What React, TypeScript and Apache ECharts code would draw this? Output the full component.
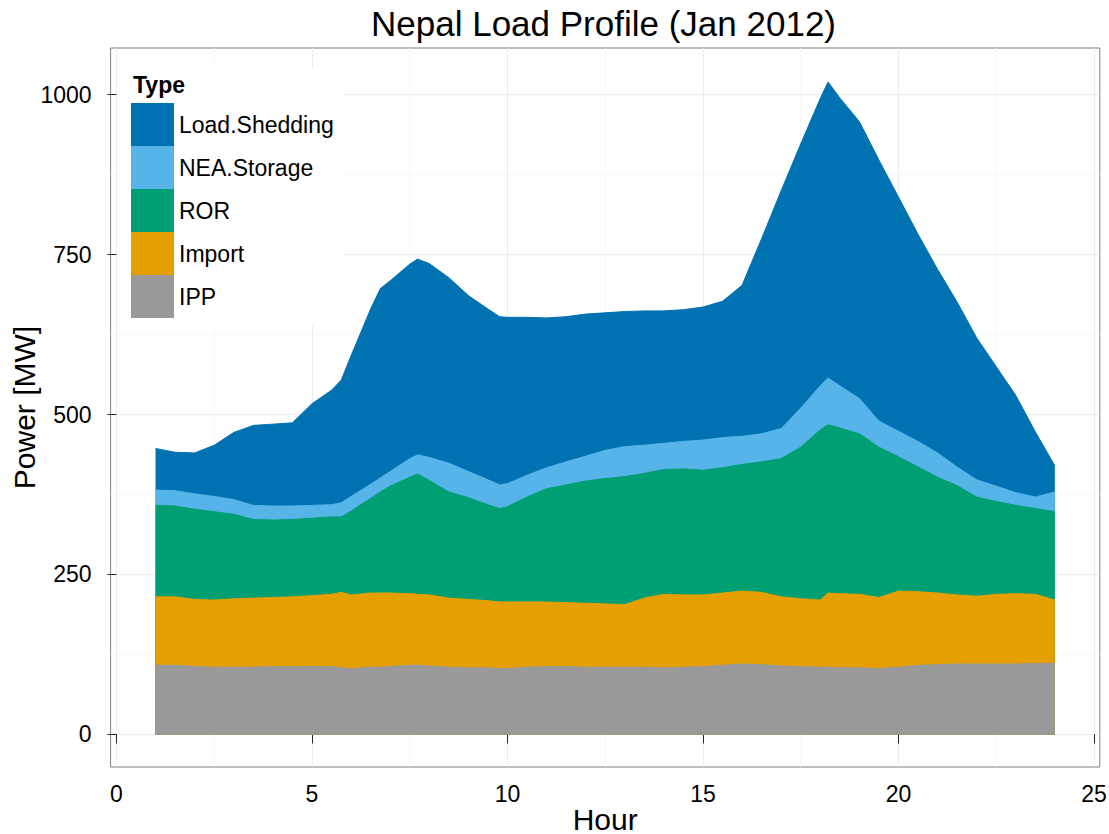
import React, { useEffect, useRef } from "react";
import * as echarts from "echarts";

const hours = [1, 1.5, 2, 2.5, 3, 3.5, 4, 4.5, 5, 5.5, 5.75, 6, 6.5, 6.75, 7, 7.5, 7.7, 8, 8.5, 9, 9.5, 9.8, 10, 10.5, 11, 11.5, 12, 12.5, 13, 13.5, 14, 14.5, 15, 15.5, 16, 16.5, 17, 17.5, 18, 18.2, 18.5, 19, 19.5, 20, 20.5, 21, 21.5, 22, 22.5, 23, 23.5, 24];

const ipp = [108, 108, 106, 105, 105, 105, 106, 106, 106, 106, 104, 103, 105, 105, 106, 108, 108, 107, 105, 104, 104, 103, 103, 105, 106, 106, 105, 105, 105, 105, 104, 105, 106, 108, 110, 109, 107, 106, 105, 105, 104, 104, 103, 105, 108, 109, 110, 110, 110, 110, 111, 111];
const importPower = [107, 107, 105, 105, 107, 108, 108, 109, 111, 113, 118, 115, 116, 116, 115, 112, 111, 111, 108, 107, 105, 104, 104, 102, 101, 100, 100, 99, 98, 108, 115, 113, 112, 113, 114, 113, 108, 106, 105, 116, 116, 115, 111, 119, 115, 112, 108, 106, 109, 110, 108, 99];
const ror = [143, 142, 141, 138, 132, 123, 121, 121, 121, 121, 118, 131, 148, 158, 167, 182, 188, 179, 166, 159, 150, 146, 149, 164, 177, 184, 191, 196, 200, 195, 195, 197, 195, 196, 198, 204, 216, 237, 266, 263, 259, 251, 235, 210, 195, 181, 171, 155, 145, 138, 134, 138];
const neaStorage = [24, 24, 24, 24, 23, 22, 22, 21, 20, 19, 22, 23, 22, 22, 23, 29, 30, 36, 45, 41, 39, 37, 36, 34, 33, 36, 39, 44, 47, 44, 41, 43, 47, 47, 44, 44, 47, 61, 69, 73, 66, 55, 41, 40, 40, 38, 29, 27, 24, 20, 18, 31];
const loadShedding = [65, 60, 64, 80, 105, 125, 128, 130, 159, 179, 192, 220, 274, 296, 298, 304, 306, 303, 290, 275, 267, 263, 260, 247, 234, 227, 222, 215, 211, 210, 207, 206, 208, 213, 236, 305, 372, 413, 449, 463, 450, 433, 408, 366, 324, 287, 258, 222, 187, 152, 102, 41];

const seriesNames = ["IPP", "Import", "ROR", "NEA.Storage", "Load.Shedding"];
const legendOrder = ["Load.Shedding", "NEA.Storage", "ROR", "Import", "IPP"];
const seriesColors = ["#999999", "#E69F00", "#009E73", "#56B4E9", "#0072B2"];
const xTicks = [0, 5, 10, 15, 20, 25];
const xMinorTicks = [2.5, 7.5, 12.5, 17.5, 22.5];
const yTicks = [0, 250, 500, 750, 1000];
const yMinorTicks = [125, 375, 625, 875];

const FONT = "'Liberation Sans', Arial, Helvetica, sans-serif";

export default function App() {
  const ref = useRef<HTMLDivElement>(null);
  useEffect(() => {
    if (!ref.current) return;
    const chart = echarts.init(ref.current, undefined, { renderer: "svg" });
    const values = [ipp, importPower, ror, neaStorage, loadShedding];
    // stacked tops of each layer (ggplot position = "stack")
    const cumulative: number[][] = [];
    values.forEach((arr, i) => {
      cumulative.push(arr.map((v, j) => v + (i > 0 ? cumulative[i - 1][j] : 0)));
    });
    // draw the highest layer first, lower layers painted over it
    const series = [4, 3, 2, 1, 0].map((i, order) => ({
      name: seriesNames[i],
      type: "line",
      data: hours.map((h, j) => [h, cumulative[i][j]]),
      symbol: "none",
      showSymbol: false,
      smooth: false,
      color: seriesColors[i],
      itemStyle: { color: seriesColors[i] },
      lineStyle: { width: 1, color: seriesColors[i] },
      areaStyle: { color: seriesColors[i], opacity: 1, origin: 0 },
      xAxisIndex: 0,
      yAxisIndex: 0,
      z: 2 + order,
      silent: true,
    }));
    chart.setOption({
      animation: false,
      backgroundColor: "#ffffff",
      textStyle: { fontFamily: FONT },
      title: [
        {
          text: "Nepal Load Profile (Jan 2012)",
          left: 371,
          top: 6,
          padding: 0,
          textStyle: { fontSize: 35, fontWeight: "normal", color: "#000", fontFamily: FONT },
        },
        {
          text: "Type",
          left: 133,
          top: 73,
          padding: 0,
          textStyle: { fontSize: 23, fontWeight: "bold", color: "#000", fontFamily: FONT },
        },
      ],
      legend: {
        data: legendOrder,
        orient: "vertical",
        left: 121,
        top: 68,
        padding: [35, 9, 8, 10],
        itemWidth: 43,
        itemHeight: 43,
        itemGap: 0,
        icon: "rect",
        selectedMode: false,
        backgroundColor: "#ffffff",
        itemStyle: { borderWidth: 0 },
        lineStyle: { width: 0 },
        textStyle: { fontSize: 23, color: "#000", fontFamily: FONT },
      },
      grid: {
        left: 110.6,
        right: 9.2,
        top: 48,
        bottom: 67,
        show: true,
        borderColor: "#7f7f7f",
        borderWidth: 1,
        backgroundColor: "#ffffff",
        outerBoundsMode: "none",
      },
      xAxis: [
        {
          type: "value",
          min: -0.15,
          max: 25.15,
          axisLine: { show: false },
          axisTick: { show: true, length: 9, lineStyle: { color: "#222" }, customValues: xTicks },
          axisLabel: {
            customValues: xTicks,
            fontSize: 23,
            color: "#000",
            margin: 15,
            fontFamily: FONT,
            formatter: (v: number) => String(v),
          },
          splitLine: { show: true, lineStyle: { color: "#ebebeb", width: 1 } },
          name: "Hour",
          nameLocation: "middle",
          nameGap: 37,
          nameMoveOverlap: false,
          nameTextStyle: { fontSize: 30, lineHeight: 30, color: "#000", fontFamily: FONT },
        },
        {
          type: "value",
          min: -0.15,
          max: 25.15,
          axisLine: { show: false },
          axisTick: { show: false, customValues: xMinorTicks },
          axisLabel: { show: false, customValues: xMinorTicks },
          splitLine: { show: true, lineStyle: { color: "#f8f8f8", width: 1 } },
        },
      ],
      yAxis: [
        {
          type: "value",
          min: -51,
          max: 1073,
          axisLine: { show: false },
          axisTick: { show: true, length: 9, lineStyle: { color: "#222" }, customValues: yTicks },
          axisLabel: {
            customValues: yTicks,
            fontSize: 23,
            color: "#000",
            margin: 19,
            fontFamily: FONT,
            formatter: (v: number) => String(v),
          },
          splitLine: { show: true, lineStyle: { color: "#ebebeb", width: 1 } },
          name: "Power [MW]",
          nameLocation: "middle",
          nameGap: 71,
          nameMoveOverlap: false,
          nameTextStyle: { fontSize: 30, lineHeight: 30, color: "#000", fontFamily: FONT },
        },
        {
          type: "value",
          min: -51,
          max: 1073,
          axisLine: { show: false },
          axisTick: { show: false, customValues: yMinorTicks },
          axisLabel: { show: false, customValues: yMinorTicks },
          splitLine: { show: true, lineStyle: { color: "#f8f8f8", width: 1 } },
        },
      ],
      series,
    });
    return () => chart.dispose();
  }, []);
  return (
    <div
      ref={ref}
      style={{ position: "absolute", left: 0, top: 0, width: 1109, height: 834 }}
    />
  );
}
